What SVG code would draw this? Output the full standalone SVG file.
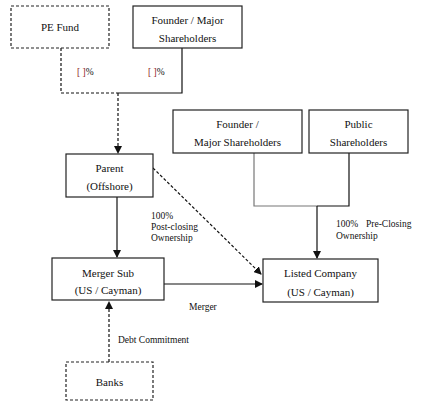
<svg xmlns="http://www.w3.org/2000/svg" width="421" height="409" viewBox="0 0 421 409">
<style>
.box{fill:#fff;stroke:#222;stroke-width:1.2}
.dbox{fill:#fff;stroke:#222;stroke-width:1.2;stroke-dasharray:3,2}
.t{font-size:11px;fill:#111;text-anchor:middle}
.l{font-size:9.5px;fill:#111}
.ln{fill:none;stroke:#111;stroke-width:1.2}
.dl{fill:none;stroke:#111;stroke-width:1.2;stroke-dasharray:3,2}
.gl{fill:none;stroke:#777;stroke-width:1.2}
.br{fill:#8b1a1a}
</style>
<defs>
<marker id="ah" markerWidth="8" markerHeight="8" refX="7" refY="4" orient="auto" markerUnits="userSpaceOnUse">
<path d="M0,0 L8,4 L0,8 Z" fill="#111"/>
</marker>
</defs>
<rect width="421" height="409" fill="#fff"/>
<g font-family="Liberation Serif, Times New Roman, serif">
<g id="connectors">
<path class="dl" d="M61,48 V93 H118"/>
<path class="ln" d="M118,93 H182 V48"/>
<path class="dl" d="M118,93 V153" marker-end="url(#ah)"/>
<path class="ln" d="M117,197 V257" marker-end="url(#ah)"/>
<path class="dl" d="M153,168 L261,274" marker-end="url(#ah)"/>
<path class="ln" d="M164,284 H262" marker-end="url(#ah)"/>
<path class="gl" d="M254,153 V206 H317"/>
<path class="ln" d="M317,206 H349 V153"/>
<path class="ln" d="M317,206 V258" marker-end="url(#ah)"/>
<path class="dl" d="M109,362 V302" marker-end="url(#ah)"/>
<text class="l" x="77" y="75"><tspan class="br">[ ]</tspan>%</text>
<text class="l" x="148" y="75"><tspan class="br">[ ]</tspan>%</text>
<text class="l" x="151" y="219">100%</text>
<text class="l" x="151" y="230">Post-closing</text>
<text class="l" x="151" y="241">Ownership</text>
<text class="l" x="336" y="227">100%<tspan x="366">Pre-Closing</tspan></text>
<text class="l" x="336" y="239">Ownership</text>
<text class="l" x="189" y="310">Merger</text>
<text class="l" x="118" y="343">Debt Commitment</text>
</g>
<g id="pe-fund">
<rect class="dbox" x="11" y="6" width="98" height="42"/>
<text class="t" x="60" y="31">PE Fund</text>
</g>
<g id="founder-top">
<rect class="box" x="133" y="6" width="109" height="42"/>
<text class="t" x="187.5" y="24">Founder / Major</text>
<text class="t" x="187.5" y="42">Shareholders</text>
</g>
<g id="parent">
<rect class="box" x="66" y="154" width="87" height="43"/>
<text class="t" x="109.5" y="172">Parent</text>
<text class="t" x="109.5" y="190">(Offshore)</text>
</g>
<g id="founder-right">
<rect class="box" x="173" y="110" width="129" height="43"/>
<text class="t" x="237.5" y="128">Founder /</text>
<text class="t" x="237.5" y="146">Major Shareholders</text>
</g>
<g id="public">
<rect class="box" x="309" y="110" width="99" height="43"/>
<text class="t" x="358.5" y="128">Public</text>
<text class="t" x="358.5" y="146">Shareholders</text>
</g>
<g id="merger-sub">
<rect class="box" x="52" y="258" width="112" height="42"/>
<text class="t" x="108" y="277">Merger Sub</text>
<text class="t" x="108" y="294">(US / Cayman)</text>
</g>
<g id="listed">
<rect class="box" x="263" y="259" width="115" height="43"/>
<text class="t" x="320.5" y="277">Listed Company</text>
<text class="t" x="320.5" y="296">(US / Cayman)</text>
</g>
<g id="banks">
<rect class="dbox" x="66" y="362" width="87" height="38"/>
<text class="t" x="109.5" y="386">Banks</text>
</g>
</g>
</svg>
